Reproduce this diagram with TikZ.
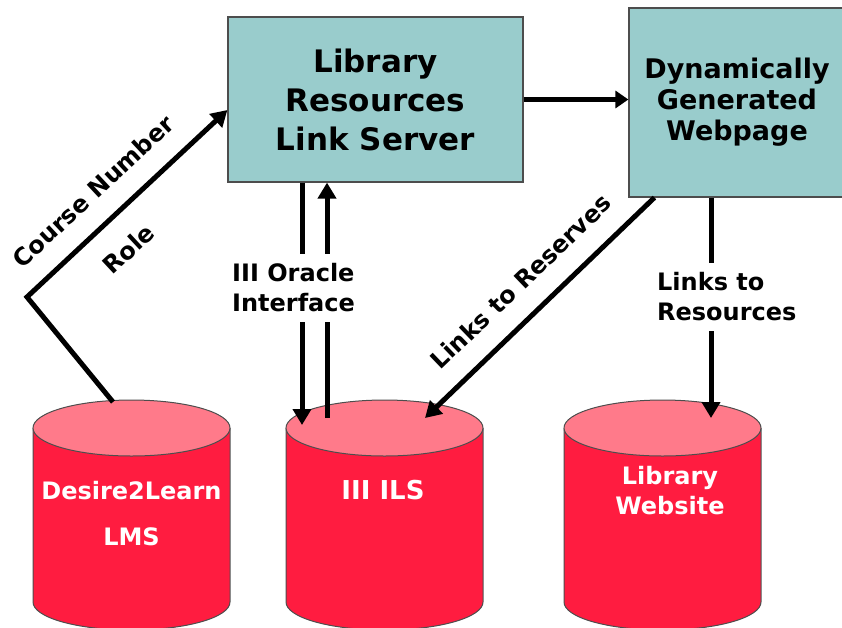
\documentclass[tikz,border=0pt]{standalone}
\usepackage{fontspec}
\setmainfont{DejaVu Sans}
\usetikzlibrary{arrows.meta}
\definecolor{boxteal}{HTML}{99CCCC}
\definecolor{dbside}{HTML}{FF1C40}
\definecolor{dbtop}{HTML}{FF7A8A}
\definecolor{edgegray}{HTML}{4D4D4D}
\begin{document}
\begin{tikzpicture}[x=1pt,y=-1pt,
  box/.style={draw=edgegray,line width=1.2pt,fill=boxteal,align=center,inner sep=0pt},
  flow/.style={line width=5pt,-{Triangle[length=16pt,width=18pt]}},
  lbl/.style={font=\fontsize{24}{30}\selectfont\bfseries},
  gap/.style={lbl,fill=white,align=left,inner xsep=3pt,inner ysep=10pt,anchor=west},
  dblbl/.style={text=white,align=center}]
\useasboundingbox (0,0) rectangle (842,627);
\clip (0,0) rectangle (842,627);
\foreach \cx in {131.5,384.5,662.5}{
  \fill[dbside] (\cx-98.5,428) rectangle (\cx+98.5,602);
  \fill[dbside] (\cx,602) ellipse[x radius=98.5pt,y radius=28pt];
  \draw[edgegray,line width=1pt] (\cx-98.5,428) -- (\cx-98.5,602) arc[start angle=180,end angle=360,x radius=98.5pt,y radius=28pt] -- (\cx+98.5,428);
  \draw[edgegray,line width=1pt,fill=dbtop] (\cx,428) ellipse[x radius=98.5pt,y radius=28pt];
}
\node[box,minimum width=295pt,minimum height=165pt,font=\fontsize{31}{39}\selectfont\bfseries] (srv) at (375.5,99.5) {Library\\Resources\\Link Server};
\node[box,minimum width=216pt,minimum height=189pt,font=\fontsize{27}{31}\selectfont\bfseries] (page) at (737,102.5) {Dynamically\\Generated\\Webpage};
\node[dblbl,font=\fontsize{24}{46}\selectfont\bfseries] (lms) at (131.5,514) {Desire2Learn\\LMS};
\node[dblbl,font=\fontsize{26}{30}\selectfont\bfseries,anchor=base] (ils) at (383,499) {III ILS};
\node[dblbl,font=\fontsize{24}{30}\selectfont\bfseries] (web) at (670,491) {Library\\Website};
\coordinate (lmsin) at (113,402);
\coordinate (bend) at (27,297);
\coordinate (ilsdown) at (302,425);
\coordinate (ilsup) at (327,418);
\coordinate (ilsres) at (425,418);
\coordinate (webin) at (711,418);
\draw[flow] (lmsin) -- (bend) -- node[pos=.44,sloped,above=17pt,lbl] {Course Number} node[pos=.39,sloped,below=19pt,lbl] {Role} ([yshift=-10.5pt]srv.west);
\draw[flow,-{Triangle[length=13pt,width=17pt]}] (srv.east) -- (srv.east -| page.west);
\draw[flow] (srv.south -| ilsdown) -- (ilsdown);
\draw[flow] (ilsup) -- (ilsup |- srv.south);
\draw[flow] ([xshift=26pt]page.south west) -- node[pos=.485,sloped,above=17pt,lbl] {Links to Reserves} (ilsres);
\draw[flow] ([xshift=-26pt]page.south) -- (webin);
\node[gap] (oracle) at (229,288) {III Oracle\\Interface};
\node[gap] (resources) at (654,297) {Links to\\Resources};
\end{tikzpicture}
\end{document}
